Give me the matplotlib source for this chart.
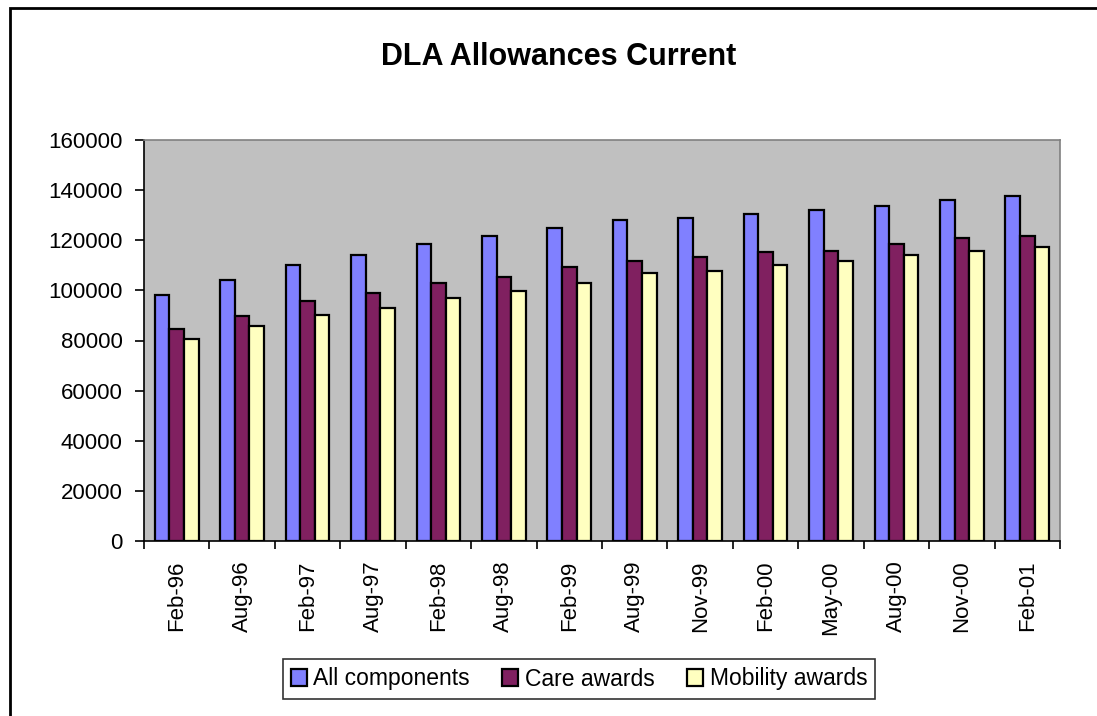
import numpy as np
import matplotlib
matplotlib.use("Agg")
import matplotlib.pyplot as plt
from matplotlib.patches import Rectangle
from matplotlib.ticker import FixedLocator

plt.rcParams['font.family'] = ['Liberation Sans', 'DejaVu Sans']

# Data
months = ['Feb-96', 'Aug-96', 'Feb-97', 'Aug-97', 'Feb-98', 'Aug-98', 'Feb-99',
          'Aug-99', 'Nov-99', 'Feb-00', 'May-00', 'Aug-00', 'Nov-00', 'Feb-01']
all_components = [98300, 104000, 110300, 114300, 118400, 121500, 124700,
                  127900, 128700, 130400, 131900, 133600, 135900, 137600]
care_awards = [84700, 89600, 95900, 99100, 102900, 105500, 109500,
               111900, 113500, 115200, 115900, 118400, 120700, 121500]
mobility_awards = [80500, 85600, 90300, 92800, 96800, 99900, 103100,
                   107100, 107900, 110300, 111900, 114300, 115900, 117500]

series = [('All components', all_components, '#8080FF'),
          ('Care awards', care_awards, '#802060'),
          ('Mobility awards', mobility_awards, '#FFFFC0')]

fig = plt.figure(figsize=(10.97, 7.16), dpi=100)
ax = fig.add_axes([144/1097, 1-541/716, (1060-144)/1097, (541-140)/716])
ax.set_facecolor('#C0C0C0')

x = np.arange(len(months))
w = 1/4.5
for k, (name, vals, col) in enumerate(series):
    ax.bar(x + (k-1)*w, vals, width=w, color=col, edgecolor='black',
           linewidth=1.6, label=name, zorder=2)

ax.set_xlim(-0.5, len(months)-0.5)
ax.set_ylim(0, 160000)
ax.set_yticks(np.arange(0, 160001, 20000))
ax.tick_params(axis='y', direction='out', length=6.5, width=1.2, pad=9,
               labelsize=16)

ax.set_xticks(x)
ax.set_xticklabels(months, rotation=90, fontsize=16)
ax.tick_params(axis='x', which='major', length=0, pad=14)
ax.xaxis.set_minor_locator(FixedLocator(np.arange(-0.5, len(months), 1.0)))
ax.tick_params(axis='x', which='minor', direction='out', length=6, width=1.2)

for s in ['left', 'bottom']:
    ax.spines[s].set_color('black')
    ax.spines[s].set_linewidth(1.2)
for s in ['top', 'right']:
    ax.spines[s].set_color('#808080')
    ax.spines[s].set_linewidth(1.2)

fig.text(558.7/1097, 1-57/716, 'DLA Allowances Current', ha='center',
         va='center', fontsize=22, fontweight='bold')

leg = fig.legend(loc='center', bbox_to_anchor=(579/1097, 1-679/716), ncol=3,
                 fontsize=16.5, frameon=True, fancybox=False, handlelength=0.7,
                 handleheight=0.7, handletextpad=0.3, columnspacing=1.4,
                 borderpad=0.35, edgecolor='black')
leg.get_frame().set_linewidth(1.2)

fig.patches.append(Rectangle((10/1097, -0.1), 1.2, 1.1 - 8/716, fill=False,
                             edgecolor='black', linewidth=2,
                             transform=fig.transFigure, figure=fig))

fig.savefig('out.png', dpi=100)
